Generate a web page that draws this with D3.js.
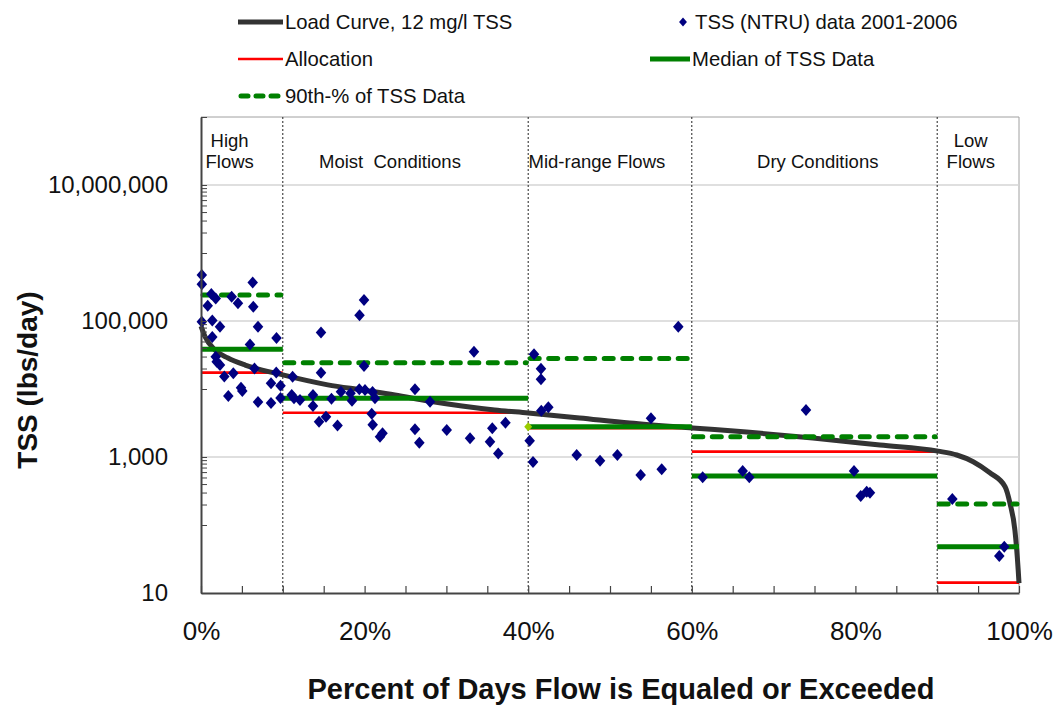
<!DOCTYPE html>
<html><head><meta charset="utf-8">
<script src="https://cdn.jsdelivr.net/npm/d3@7"></script>
<style>
body{margin:0;background:#fff;}
svg{display:block;font-family:"Liberation Sans",Arial,sans-serif;}
text{white-space:pre;}
</style>
</head><body>
<svg id="c" width="1060" height="707"></svg>
<script>
// ---------- data ----------
const curvePct  = [0, 0.5, 1.7, 3.3, 5.4, 10, 15.5, 19.7, 23.7, 27.8, 31.9, 35.9, 40, 46.3, 52.4, 60.1, 66.7, 74.8, 83, 90.1, 92.4, 94.4, 96.4, 98.3, 98.9, 99.5, 99.9, 100];
const curveLoad = [84300, 58800, 37500, 28600, 22500, 16100, 11500, 9660, 8170, 6660, 5620, 4910, 4440, 3750, 3160, 2670, 2330, 1900, 1500, 1220, 1070, 853, 590, 366, 208, 84, 22, 14];

const zoneStart = [0, 10, 40, 60, 90];
const zoneEnd   = [10, 40, 60, 90, 100];
const zoneLabels = [["High", "Flows"], ["Moist  Conditions"], ["Mid-range Flows"], ["Dry Conditions"], ["Low", "Flows"]];
const zoneLabelPct = [3.5, 23.1, 48.4, 75.4, 94.1];

const allocation = [17400, 4480, 2650, 1200, 14.2];
const median     = [38300, 7290, 2790, 526, 48];
const pct90      = [241000, 24400, 28200, 1990, 204];

const tssPct = [0.1, 0.1, 1.26, 1.8, 0.82, 3.75, 4.52, 6.32, 6.39, 0.1, 1.38, 2.32, 6.97, 1.38, 5.99, 9.23, 1.8, 1.92, 2.32, 2.85, 3.95, 6.54, 9.2, 3.34, 4.89, 5.05, 8.56, 9.72, 6.97, 8.56, 9.72,
  11.2, 11.09, 11.37, 12.1, 13.69, 13.69, 14.67, 14.67, 14.43, 15.28, 15.95, 16.69, 17.11, 18.28, 18.46, 19.38, 19.93, 19.35, 19.93, 20.05, 20.97, 21.27, 20.87, 20.99, 21.88, 22.19, 26.16, 26.16, 26.69, 28.0, 30.04, 33.37, 32.89, 35.33, 35.61, 36.34, 37.22,
  40.18, 40.59, 40.71, 41.56, 41.56, 41.6, 42.46, 45.93, 48.78, 50.9, 53.75, 56.32, 55.01, 58.35,
  61.33, 66.22, 67.03, 73.96, 79.83, 80.65, 81.38, 81.78,
  91.85, 98.2, 97.59];
const tssLoad = [474000, 347000, 250000, 214000, 168000, 228000, 182000, 368000, 162000, 97700, 102000, 82400, 82400, 58200, 45100, 56200, 29900, 25200, 22500, 15300, 17000, 20100, 17500, 7890, 10400, 9350, 12100, 11200, 6440, 6220, 7380,
  15200, 8170, 7300, 6890, 8170, 5620, 17400, 67800, 3300, 3920, 7200, 2900, 9120, 8650, 6730, 122000, 204000, 9910, 21800, 9660, 9040, 7290, 4330, 2990, 1990, 2240, 9930, 2550, 1620, 6500, 2490, 35400, 1880, 1680, 2640, 1130, 3190,
  1740, 843, 32500, 19900, 13900, 4800, 5380, 1070, 883, 1070, 543, 659, 3710, 82400,
  502, 622, 502, 4910, 622, 267, 309, 299,
  241, 48, 35];

const xTicks = d3.range(0, 101, 5);
const xLabelValues = [0, 20, 40, 60, 80, 100];
const yMajor = [10, 100, 1e3, 1e4, 1e5, 1e6, 1e7, 1e8];
const yMinorDecades = [100, 1e4, 1e6];
const yLabelValues = [10, 1e3, 1e5, 1e7];
const gridValues = [1e3, 1e5, 1e7];
const legendLabels = ["Load Curve, 12 mg/l TSS", "TSS (NTRU) data 2001-2006", "Allocation", "Median of TSS Data", "90th-% of TSS Data"];
const xTitle = "Percent of Days Flow is Equaled or Exceeded";
const yTitle = "TSS (lbs/day)";

// ---------- layout ----------
const L = 201, R = 1019, T = 117, B = 593;
const x = d3.scaleLinear().domain([0, 100]).range([L, R]);
const y = d3.scaleLog().domain([10, 1e8]).range([B, T]);

const svg = d3.select("#c");
const GREEN = "#008000", RED = "#ff0000", NAVY = "#000080", CURVE = "#333333";

// frame: top and right border
svg.append("path").attr("d", `M${L},${T}H${R}V${B}`).attr("fill", "none").attr("stroke", "#a0a0a0").attr("stroke-width", 1);

// gridlines
svg.append("g").selectAll("line").data(gridValues).join("line")
  .attr("x1", L).attr("x2", R).attr("y1", d => y(d)).attr("y2", d => y(d))
  .attr("stroke", "#d4d4d4").attr("stroke-width", 1.5);

// zone separators
svg.append("g").selectAll("line").data(zoneStart.slice(1)).join("line")
  .attr("x1", d => x(d)).attr("x2", d => x(d)).attr("y1", T).attr("y2", B)
  .attr("stroke", "#222").attr("stroke-width", 1).attr("stroke-dasharray", "2,2");

// zone labels
zoneLabels.forEach((lines, i) => {
  const baseY = lines.length === 2 ? [147, 168] : [168];
  lines.forEach((t, j) => {
    svg.append("text").attr("x", x(zoneLabelPct[i])).attr("y", baseY[j])
      .attr("text-anchor", "middle").attr("font-size", 18.5).attr("fill", "#111").text(t);
  });
});

// allocation lines
svg.append("g").selectAll("line").data(allocation).join("line")
  .attr("x1", (d, i) => x(zoneStart[i])).attr("x2", (d, i) => x(zoneEnd[i]))
  .attr("y1", d => y(d)).attr("y2", d => y(d))
  .attr("stroke", RED).attr("stroke-width", 2.6);

// load curve
const line = d3.line().x(d => x(d[0])).y(d => y(d[1])).curve(d3.curveMonotoneX);
svg.append("path").datum(curvePct.map((p, i) => [p, curveLoad[i]]))
  .attr("d", line).attr("fill", "none").attr("stroke", CURVE).attr("stroke-width", 5);

// medians
svg.append("g").selectAll("line").data(median).join("line")
  .attr("x1", (d, i) => x(zoneStart[i])).attr("x2", (d, i) => x(zoneEnd[i]))
  .attr("y1", d => y(d)).attr("y2", d => y(d))
  .attr("stroke", GREEN).attr("stroke-width", 5);

// 90th percentile
svg.append("g").selectAll("line").data(pct90).join("line")
  .attr("x1", (d, i) => x(zoneStart[i]) + 2).attr("x2", (d, i) => x(zoneEnd[i]) - 2)
  .attr("y1", d => y(d)).attr("y2", d => y(d))
  .attr("stroke", GREEN).attr("stroke-width", 5)
  .attr("stroke-linecap", "round").attr("stroke-dasharray", "9,9.5");

// marker at start of mid-range median
const diamond = (r) => `M0,${-r}L${r * 0.88},0L0,${r}L${-r * 0.88},0Z`;
svg.append("path").attr("d", diamond(4.5))
  .attr("transform", `translate(${x(zoneStart[2])},${y(median[2])})`).attr("fill", "#99cc00");

// TSS data
svg.append("g").selectAll("path").data(tssPct).join("path")
  .attr("d", diamond(6))
  .attr("transform", (d, i) => `translate(${x(d)},${y(tssLoad[i])})`)
  .attr("fill", NAVY);

// axes
const yTickVals = yMajor.concat(...yMinorDecades.map(dec => d3.range(2, 10).map(k => k * dec)));
const yAxis = d3.axisLeft(y).tickValues(yTickVals).tickSizeInner(-6).tickSizeOuter(0).tickPadding(33)
  .tickFormat(d => yLabelValues.includes(d) ? d3.format(",")(d) : "");
const gy = svg.append("g").attr("transform", `translate(${L},0)`).call(yAxis);
gy.select(".domain").attr("stroke", "#444").attr("stroke-width", 2);
gy.selectAll(".tick line").attr("stroke", "#444").attr("stroke-width", 1);
gy.selectAll(".tick text").attr("font-size", 24).attr("fill", "#111").attr("font-family", "Liberation Sans, Arial, sans-serif");

const xAxis = d3.axisBottom(x).tickValues(xTicks).tickSizeInner(-7).tickSizeOuter(0).tickPadding(29)
  .tickFormat(d => xLabelValues.includes(d) ? d + "%" : "");
const gx = svg.append("g").attr("transform", `translate(0,${B})`).call(xAxis);
gx.select(".domain").attr("stroke", "#444").attr("stroke-width", 2);
gx.selectAll(".tick line").attr("stroke", "#444").attr("stroke-width", 1.2);
gx.selectAll(".tick text").attr("font-size", 26).attr("fill", "#111").attr("font-family", "Liberation Sans, Arial, sans-serif");

// titles
svg.append("text").attr("x", 621).attr("y", 699).attr("text-anchor", "middle")
  .attr("font-size", 29).attr("font-weight", "bold").attr("fill", "#111").text(xTitle);
svg.append("text").attr("transform", "translate(37,380) rotate(-90)").attr("text-anchor", "middle")
  .attr("font-size", 28).attr("font-weight", "bold").attr("fill", "#111").text(yTitle);

// legend
const lg = svg.append("g").attr("font-size", 20.3).attr("fill", "#111");
const legendItems = [
  {label: legendLabels[0], x0: 238, x1: 283, ty: 22, type: "curve"},
  {label: legendLabels[1], x0: 683, x1: 683, ty: 22, type: "dot"},
  {label: legendLabels[2], x0: 238, x1: 283, ty: 59, type: "alloc"},
  {label: legendLabels[3], x0: 650, x1: 690, ty: 59, type: "median"},
  {label: legendLabels[4], x0: 238, x1: 283, ty: 96, type: "p90"}
];
legendItems.forEach(it => {
  if (it.type === "dot") {
    lg.append("path").attr("d", diamond(4.5)).attr("transform", `translate(${it.x0},${it.ty})`).attr("fill", NAVY);
    lg.append("text").attr("x", it.x0 + 12).attr("y", it.ty + 7).text(it.label);
    return;
  }
  const ln = lg.append("line").attr("x1", it.x0).attr("x2", it.x1).attr("y1", it.ty).attr("y2", it.ty);
  if (it.type === "curve") ln.attr("stroke", CURVE).attr("stroke-width", 5);
  if (it.type === "alloc") ln.attr("stroke", RED).attr("stroke-width", 2.6);
  if (it.type === "median") ln.attr("stroke", GREEN).attr("stroke-width", 5);
  if (it.type === "p90") ln.attr("x1", it.x0 + 3).attr("x2", it.x1 - 1).attr("stroke", GREEN).attr("stroke-width", 5)
    .attr("stroke-linecap", "round").attr("stroke-dasharray", "7,8");
  lg.append("text").attr("x", it.x1 + 2).attr("y", it.ty + 7).text(it.label);
});
</script>
</body></html>
